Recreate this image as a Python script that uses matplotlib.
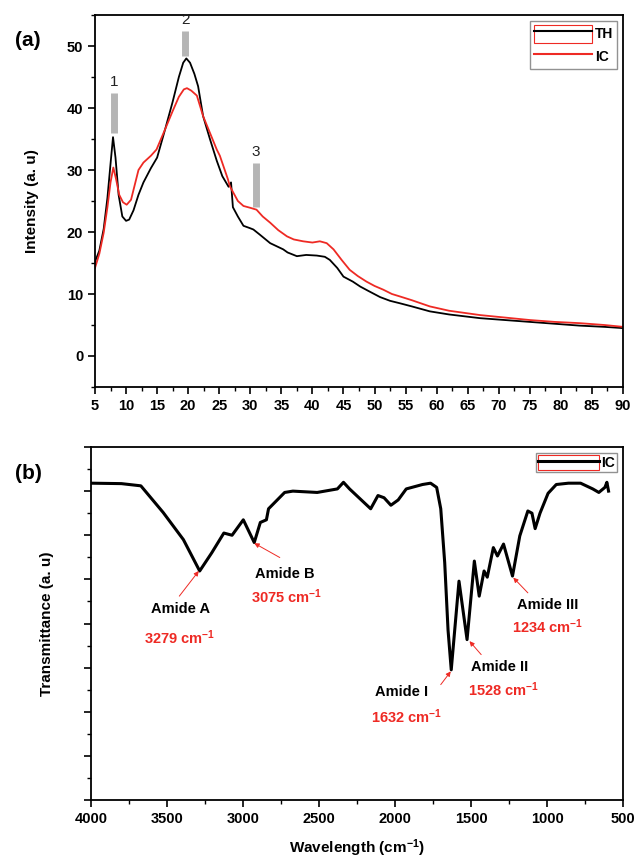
import matplotlib
matplotlib.use("Agg")
import matplotlib.pyplot as plt
from matplotlib.patches import Patch
from matplotlib.lines import Line2D
from matplotlib.ticker import MultipleLocator

plt.rcParams['font.family'] = ['Liberation Sans', 'DejaVu Sans']
plt.rcParams['mathtext.fontset'] = 'custom'
plt.rcParams['mathtext.rm'] = 'Liberation Sans:bold'
plt.rcParams['mathtext.bf'] = 'Liberation Sans:bold'
plt.rcParams['mathtext.it'] = 'Liberation Sans:bold'

# (a) XRD
th_x = [5, 5.7, 6.4, 7.0, 7.5, 7.9, 8.3, 8.8, 9.4, 10.0, 10.5, 11.2, 12.0, 12.8, 14.0, 15.0,
        16.3, 17.5, 18.5, 19.2, 19.7, 20.3, 21.0, 21.6, 22.4, 23.5, 24.6, 25.5, 26.5, 26.9,
        27.2, 28.0, 28.9, 30.0, 30.5, 31.5, 33.2, 35.3, 36.0, 37.5, 39.0, 40.7, 42.0, 42.8,
        44.0, 45.0, 46.5, 47.7, 49.0, 50.9, 52.5, 54.1, 56, 58.9, 62, 67, 71, 75, 79, 83, 87, 90]
th_y = [15.2, 17.0, 20.5, 25.5, 31.0, 35.3, 32.0, 26.0, 22.5, 21.8, 22.0, 23.5, 26.0, 28.0, 30.3, 32.0,
        36.6, 41.0, 45.0, 47.3, 48.0, 47.3, 45.5, 43.5, 38.7, 35.0, 31.5, 29.0, 27.3, 28.0,
        24.0, 22.5, 21.0, 20.6, 20.4, 19.6, 18.2, 17.2, 16.7, 16.1, 16.3, 16.2, 16.0, 15.5,
        14.2, 12.8, 12.0, 11.2, 10.5, 9.5, 8.9, 8.5, 8.0, 7.2, 6.7, 6.1, 5.8, 5.5, 5.2, 4.9, 4.7, 4.5]

ic_x = [5, 5.7, 6.4, 7.0, 7.5, 7.95, 8.4, 8.9, 9.5, 10.1, 10.8, 11.5, 12.0, 12.8, 14.0, 14.9,
        16.3, 17.5, 18.5, 19.3, 19.8, 20.5, 21.4, 22.4, 23.5, 24.6, 25.1, 26.4, 26.7, 28.0,
        28.9, 30.0, 31.0, 32.0, 33.2, 34.5, 35.9, 37.0, 38.5, 40.0, 41.2, 42.3, 43.4, 44.7,
        46.0, 47.3, 48.7, 50.0, 51.4, 52.8, 54.1, 56, 58.9, 62, 67, 71, 75, 79, 83, 87, 90]
ic_y = [14.2, 16.5, 19.9, 24.0, 28.0, 30.4, 28.5, 26.0, 24.8, 24.4, 25.2, 28.0, 30.0, 31.2, 32.3, 33.3,
        36.6, 39.5, 41.8, 43.0, 43.2, 42.8, 42.0, 38.7, 36.0, 33.3, 32.3, 28.5, 27.4, 25.0,
        24.2, 23.9, 23.6, 22.5, 21.5, 20.3, 19.3, 18.8, 18.5, 18.3, 18.5, 18.2, 17.2, 15.5,
        13.9, 12.9, 12.0, 11.3, 10.7, 10.0, 9.6, 9.0, 8.0, 7.3, 6.6, 6.2, 5.8, 5.5, 5.3, 5.0, 4.7]

peak_x = [8.0, 19.5, 30.9]
peak_lo = [35.9, 48.4, 24.1]
peak_hi = [42.4, 52.4, 31.2]
peak_names = ["1", "2", "3"]

# (b) FTIR
ir_w = [4000, 3800, 3672, 3525, 3392, 3285, 3206, 3126, 3072, 2998, 2926, 2886, 2846, 2832,
        2726, 2672, 2512, 2379, 2339, 2299, 2160, 2112, 2072, 2027, 1979, 1926, 1819, 1766,
        1726, 1699, 1673, 1651, 1630, 1579, 1526, 1478, 1446, 1414, 1393, 1353, 1326, 1286,
        1227, 1179, 1126, 1099, 1078, 1046, 993, 939, 859, 779, 699, 659, 619, 606, 595]
ir_t = [14.36, 14.34, 14.24, 13.03, 11.8, 10.38, 11.2, 12.1, 12.0, 12.7, 11.67, 12.58, 12.7, 13.2,
        13.94, 14.0, 13.94, 14.1, 14.4, 14.1, 13.2, 13.8, 13.7, 13.36, 13.6, 14.1, 14.3, 14.36,
        14.17, 13.2, 10.76, 7.7, 5.9, 9.92, 7.27, 10.83, 9.24, 10.38, 10.1, 11.44, 11.06, 11.6,
        10.15, 11.97, 13.1, 13.0, 12.3, 13.0, 13.9, 14.3, 14.36, 14.36, 14.1, 13.94, 14.17, 14.4, 14.0]

band_names = ["Amide A", "Amide B", "Amide I", "Amide II", "Amide III"]
band_values = ["3279", "3075", "1632", "1528", "1234"]
band_name_xy = [(3414, 8.64), (2726, 10.23), (1958, 4.9), (1313, 6.05), (993, 8.86)]
band_value_xy = [(3420, 7.36), (2713, 9.23), (1926, 3.77), (1287, 5.0), (993, 7.86)]
arrow_tail = [(3419, 9.24), (2758, 10.99), (1699, 5.23), (1433, 6.59), (1126, 9.39)]
arrow_head = [(3291, 10.38), (2926, 11.64), (1633, 5.83), (1510, 7.2), (1222, 10.08)]

red = "#ee2a24"

fig = plt.figure(figsize=(6.36, 8.60), dpi=100)

# ---- top panel
ax1 = fig.add_axes([95 / 636, 1 - 387 / 860, 528 / 636, 372 / 860])
ax1.plot(th_x, th_y, color="black", lw=1.3)
ax1.plot(ic_x, ic_y, color=red, lw=1.3)
for px, lo, hi, name in zip(peak_x, peak_lo, peak_hi, peak_names):
    ax1.plot([px, px], [lo, hi], color="#b5b5b5", lw=5, solid_capstyle="butt", zorder=0)
    ax1.text(px, hi + 0.6, name, ha="center", va="bottom", fontsize=11, color="#222222")
ax1.set_xlim(5, 90)
ax1.set_ylim(-5, 55)
ax1.set_xticks(range(5, 91, 5))
ax1.set_yticks(range(0, 51, 10))
ax1.xaxis.set_minor_locator(MultipleLocator(2.5))
ax1.yaxis.set_minor_locator(MultipleLocator(5))
ax1.set_ylabel("Intensity (a. u)", fontsize=11, fontweight="bold", labelpad=20)
h_th = (Patch(facecolor="none", edgecolor=red, lw=0.8), Line2D([], [], color="black", lw=1.5))
h_ic = Line2D([], [], color=red, lw=1.5)
ax1.legend([h_th, h_ic], ["TH", "IC"], loc="upper right", fontsize=10.5, prop={"weight": "bold"},
           fancybox=False, edgecolor="#777777", handlelength=4.2, handleheight=1.6,
           handletextpad=0.2, borderpad=0.3, labelspacing=0.35, borderaxespad=0.4)
fig.text(28 / 636, 1 - 40 / 860, "(a)", fontsize=15, fontweight="bold", ha="center", va="center")

# ---- bottom panel
ax2 = fig.add_axes([91 / 636, 1 - 800 / 860, 532 / 636, 353 / 860])
ax2.plot(ir_w, ir_t, color="black", lw=2.2)
ax2.set_xlim(4000, 500)
ax2.set_ylim(0, 16)
ax2.set_xticks(range(4000, 499, -500))
ax2.xaxis.set_minor_locator(MultipleLocator(250))
ax2.yaxis.set_major_locator(MultipleLocator(2))
ax2.yaxis.set_minor_locator(MultipleLocator(1))
ax2.set_yticklabels([])
ax2.set_ylabel("Transmittance (a. u)", fontsize=11, fontweight="bold", labelpad=18)
ax2.set_xlabel(r"Wavelength (cm$^{-1}$)", fontsize=11, fontweight="bold", labelpad=8)
for name, val, nxy, vxy, tail, head in zip(band_names, band_values, band_name_xy,
                                          band_value_xy, arrow_tail, arrow_head):
    ax2.text(nxy[0], nxy[1], name, ha="center", va="center", fontsize=10.5, fontweight="bold")
    ax2.text(vxy[0], vxy[1], val + r" cm$^{-1}$", ha="center", va="center", fontsize=10.5,
             fontweight="bold", color=red)
    ax2.annotate("", xy=head, xytext=tail,
                 arrowprops=dict(arrowstyle="-|>", color=red, lw=0.7, mutation_scale=7,
                                 shrinkA=0, shrinkB=0))
h_ic2 = (Patch(facecolor="none", edgecolor=red, lw=0.8), Line2D([], [], color="black", lw=2.2))
ax2.legend([h_ic2], ["IC"], loc="upper right", fontsize=10.5, prop={"weight": "bold"},
           fancybox=False, edgecolor="#777777", handlelength=4.4, handleheight=1.3,
           handletextpad=0.2, borderpad=0.15, borderaxespad=0.4)
fig.text(28 / 636, 1 - 473 / 860, "(b)", fontsize=15, fontweight="bold", ha="center", va="center")

for ax in (ax1, ax2):
    ax.tick_params(which="major", direction="out", length=5, width=1.2, labelsize=10.5)
    ax.tick_params(which="minor", direction="out", length=3, width=1.0)
    for lab in ax.get_xticklabels() + ax.get_yticklabels():
        lab.set_fontweight("bold")
    for sp in ax.spines.values():
        sp.set_linewidth(1.3)

fig.savefig("out.png", dpi=100)
